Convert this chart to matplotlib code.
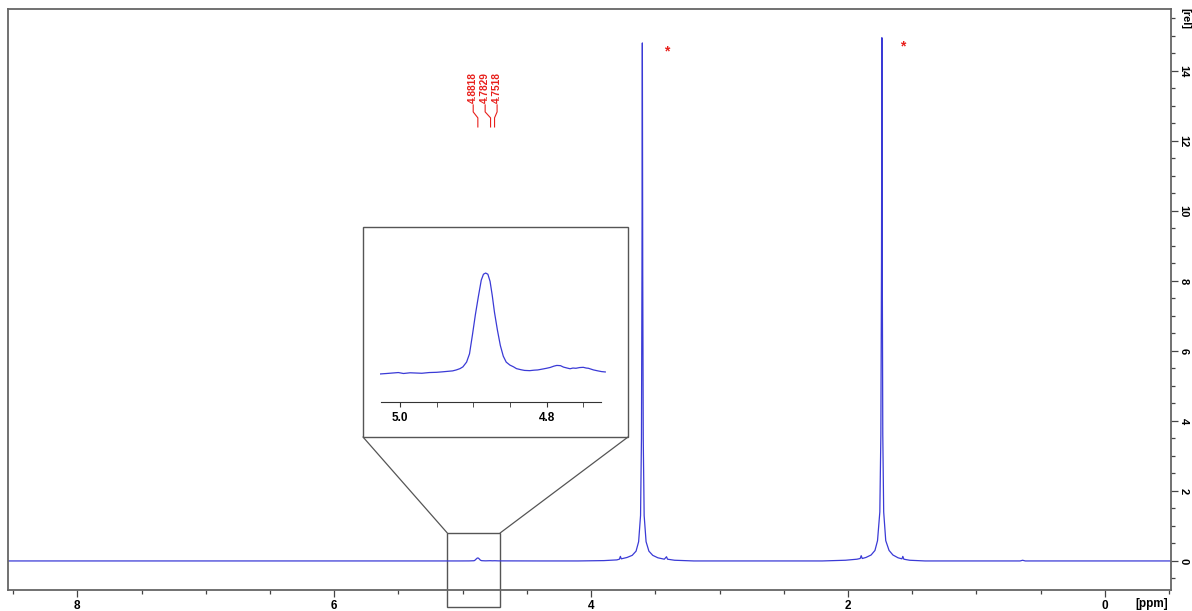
import numpy as np
import matplotlib.pyplot as plt
from matplotlib.patches import Rectangle, ConnectionPatch
from matplotlib.ticker import MultipleLocator, FixedLocator

plt.rcParams['font.family'] = ['Liberation Sans', 'DejaVu Sans']

# Spectrum (ppm, rel. intensity) ----
main_ppm = [8.54, 6.00, 5.10, 5.027, 4.950, 4.914, 4.907, 4.900, 4.893, 4.886,
            4.880, 4.875, 4.868, 4.861, 4.852, 4.823, 4.786, 4.768, 4.750, 4.720,
            4.40, 4.10, 3.90, 3.80, 3.780, 3.772, 3.765, 3.72, 3.68, 3.65, 3.63,
            3.615, 3.608, 3.604, 3.601, 3.598, 3.594, 3.587, 3.572, 3.55, 3.52,
            3.48, 3.43, 3.413, 3.405, 3.35, 3.20, 2.80, 2.20, 2.02, 1.93, 1.905,
            1.897, 1.889, 1.86, 1.82, 1.79, 1.77, 1.752, 1.744, 1.739, 1.736,
            1.733, 1.729, 1.722, 1.706, 1.68, 1.65, 1.61, 1.58, 1.573, 1.565,
            1.52, 1.40, 1.00, 0.66, 0.64, 0.62, 0.30, -0.515]
main_int = [0.0, 0.0, 0.0, 0.0, 0.001, 0.006, 0.012, 0.037, 0.060, 0.083,
            0.084, 0.073, 0.045, 0.020, 0.008, 0.003, 0.007, 0.004, 0.006, 0.002,
            0.0, 0.0, 0.01, 0.03, 0.05, 0.13, 0.06, 0.10, 0.16, 0.28, 0.55,
            1.3, 3.5, 8.2, 14.8, 8.2, 3.5, 1.3, 0.55, 0.28, 0.16,
            0.09, 0.05, 0.12, 0.05, 0.02, 0.0, 0.0, 0.0, 0.02, 0.05, 0.07,
            0.15, 0.07, 0.10, 0.17, 0.30, 0.58, 1.4, 3.6, 8.5, 14.95,
            8.5, 3.6, 1.4, 0.58, 0.30, 0.17, 0.09, 0.06, 0.13, 0.05,
            0.02, 0.0, 0.0, 0.0, 0.02, 0.0, 0.0, 0.0]

# Expanded region 4.72 - 5.03 ppm ----
inset_ppm = [5.027, 5.018, 5.010, 5.002, 4.995, 4.986, 4.978, 4.970, 4.960,
             4.950, 4.942, 4.935, 4.928, 4.923, 4.918, 4.914, 4.909, 4.905,
             4.901, 4.897, 4.893, 4.889, 4.886, 4.883, 4.880, 4.877, 4.874,
             4.871, 4.867, 4.863, 4.859, 4.855, 4.850, 4.845, 4.841, 4.835,
             4.830, 4.823, 4.817, 4.812, 4.805, 4.800, 4.795, 4.790, 4.786,
             4.781, 4.777, 4.772, 4.768, 4.764, 4.760, 4.755, 4.750, 4.746,
             4.743, 4.739, 4.736, 4.730, 4.725, 4.720]
inset_int = [0.0, 0.0004, 0.0008, 0.0012, 0.0004, 0.0010, 0.0008, 0.0006, 0.0012,
             0.0014, 0.0018, 0.0022, 0.0026, 0.0034, 0.0045, 0.0060, 0.0100, 0.0170,
             0.0330, 0.0500, 0.0650, 0.0790, 0.0840, 0.0850, 0.0840, 0.0780, 0.0660,
             0.0520, 0.0370, 0.0240, 0.0150, 0.0100, 0.0075, 0.0060, 0.0045, 0.0036,
             0.0030, 0.0028, 0.0032, 0.0034, 0.0042, 0.0048, 0.0055, 0.0066, 0.0072,
             0.0070, 0.0058, 0.0050, 0.0044, 0.0050, 0.0048, 0.0054, 0.0056, 0.0050,
             0.0048, 0.0040, 0.0034, 0.0026, 0.0020, 0.0017]

peak_labels = ['4.8818', '4.7829', '4.7518']
peak_ppm = [4.8818, 4.7829, 4.7518]
label_ppm = [4.918, 4.825, 4.732]
star_ppm = [3.41, 1.572]
star_int = [14.55, 14.70]

W, H = 1192, 611
blue = '#3a3ad6'
red = '#e8201c'
axc = '#666666'

fig = plt.figure(figsize=(W / 100, H / 100), dpi=100)
ax = fig.add_axes([8 / W, 21 / H, 1163 / W, 581 / H])
ax.plot(main_ppm, main_int, color=blue, lw=0.9)
ax.set_xlim(8.54, -0.515)
ax.set_ylim(-0.83, 15.77)

for s in ax.spines.values():
    s.set_color(axc)
    s.set_linewidth(1.3)
ax.yaxis.tick_right()
ax.xaxis.set_major_locator(MultipleLocator(2))
ax.xaxis.set_minor_locator(MultipleLocator(0.5))
ax.yaxis.set_major_locator(MultipleLocator(2))
ax.yaxis.set_minor_locator(MultipleLocator(0.5))
ax.tick_params(which='both', direction='out', color='#444444', width=0.9,
               labelsize=8.5)
ax.tick_params(which='major', length=5)
ax.tick_params(which='minor', length=3)
ax.tick_params(axis='x', pad=2)
ax.tick_params(axis='y', pad=0.5, labelsize=8)
for t in ax.get_xticklabels() + ax.get_yticklabels():
    t.set_fontweight('bold')
for t in ax.get_yticklabels():
    t.set_rotation(-90)
    t.set_va('center')
    t.set_ha('left')

fig.text(1185 / W, 1 - 18 / H, '[rel]', rotation=-90, ha='center', va='center',
         fontsize=8, fontweight='bold')
fig.text(1152 / W, 1 - 604 / H, '[ppm]', ha='center', va='center',
         fontsize=8.5, fontweight='bold')

# Peak picking labels ----
for lab, pk, lx in zip(peak_labels, peak_ppm, label_ppm):
    ax.text(lx, 13.09, lab, rotation=90, ha='center', va='bottom', color=red,
            fontsize=7.3, fontweight='bold')
    ax.plot([lx, lx, pk, pk], [13.03, 12.83, 12.66, 12.40], color=red, lw=0.8)

for sx, sy in zip(star_ppm, star_int):
    ax.text(sx, sy, '*', color=red, ha='center', va='center', fontsize=10,
            fontweight='bold')

# Zoom box on the spectrum ----
zx0, zx1, zy0, zy1 = 5.12, 4.708, -1.32, 0.80
ax.add_patch(Rectangle((zx1, zy0), zx0 - zx1, zy1 - zy0, fill=False,
                       edgecolor='#555555', lw=1.0, clip_on=False))

# Inset frame ----
bx0, by0, bw, bh = 363 / W, 1 - 437 / H, 265 / W, 210 / H
fig.add_artist(Rectangle((bx0, by0), bw, bh, transform=fig.transFigure,
                         facecolor='white', edgecolor='#555555', lw=1.0,
                         zorder=2))
for xa, xb in [(zx0, bx0), (zx1, bx0 + bw)]:
    fig.add_artist(ConnectionPatch(xyA=(xa, zy1), coordsA=ax.transData,
                                   xyB=(xb, by0), coordsB=fig.transFigure,
                                   color='#555555', lw=0.9, zorder=2))

ins = fig.add_axes([380 / W, 1 - 402 / H, 226 / W, 152 / H])
ins.set_zorder(5)
ins.patch.set_alpha(0)
ins.plot(inset_ppm, inset_int, color=blue, lw=0.9)
ins.set_xlim(5.027, 4.719)
ins.set_ylim(-0.0236, 0.1044)
for k in ['top', 'left', 'right']:
    ins.spines[k].set_visible(False)
ins.spines['bottom'].set_bounds(5.026, 4.726)
ins.spines['bottom'].set_color('#333333')
ins.set_yticks([])
ins.xaxis.set_major_locator(FixedLocator([5.0, 4.8]))
ins.xaxis.set_minor_locator(FixedLocator([4.95, 4.9, 4.85, 4.75]))
ins.xaxis.set_ticklabels(['5.0', '4.8'])
ins.tick_params(which='both', direction='out', length=3.5, color='#333333',
                labelsize=8.5, pad=4)
for t in ins.get_xticklabels():
    t.set_fontweight('bold')

fig.savefig('out.png', dpi=100)
